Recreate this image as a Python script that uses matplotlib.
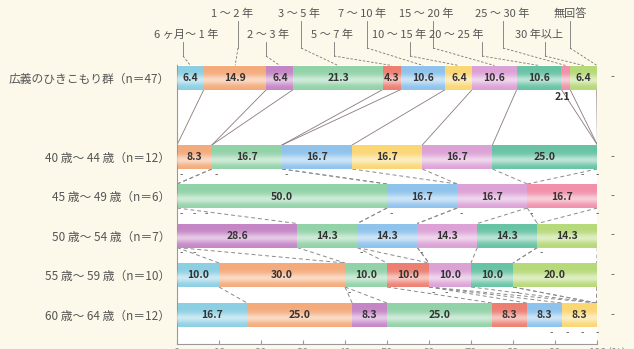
import numpy as np
import matplotlib.pyplot as plt

plt.rcParams['font.family'] = ['Noto Sans CJK JP', 'DejaVu Sans']

categories = ['6 ヶ月～ 1 年', '1 ～ 2 年', '2 ～ 3 年', '3 ～ 5 年', '5 ～ 7 年', '7 ～ 10 年',
              '10 ～ 15 年', '15 ～ 20 年', '20 ～ 25 年', '25 ～ 30 年', '30 年以上', '無回答']
groups = ['広義のひきこもり群（n＝47）', '40 歳～ 44 歳（n＝12）', '45 歳～ 49 歳（n＝6）',
          '50 歳～ 54 歳（n＝7）', '55 歳～ 59 歳（n＝10）', '60 歳～ 64 歳（n＝12）']

total = [6.4, 14.9, 6.4, 21.3, 4.3, 10.6, 6.4, 10.6, 10.6, 2.1, 6.4, 0]
age_40_44 = [0, 8.3, 0, 16.7, 0, 16.7, 16.7, 16.7, 25.0, 0, 0, 0]
age_45_49 = [0, 0, 0, 50.0, 0, 16.7, 0, 16.7, 0, 16.7, 0, 0]
age_50_54 = [0, 0, 28.6, 14.3, 0, 14.3, 0, 14.3, 14.3, 0, 14.3, 0]
age_55_59 = [10.0, 30.0, 0, 10.0, 10.0, 0, 0, 10.0, 10.0, 0, 20.0, 0]
age_60_64 = [16.7, 25.0, 8.3, 25.0, 8.3, 8.3, 8.3, 0, 0, 0, 0, 0]

colors = ['#8ccfe3', '#f4ab7c', '#c586c6', '#92d2a8', '#ec7f72', '#8fc3ec',
          '#fad674', '#dca2d6', '#68c3a5', '#f190aa', '#b6d979', '#bbbbbb']

data = np.array([total, age_40_44, age_45_49, age_50_54, age_55_59, age_60_64])
cum = data.cumsum(axis=1)
left = cum - data

# layout is in pixel units so row and label placement is easy to tune
W, H = 634, 349
x0_px, x1_px = 177, 597
top_px, bottom_px = 65, 344
row_y = [77.5, 157, 196, 235.5, 275, 315]
bar_h = 24


def px(x):
    return (x - x0_px) / (x1_px - x0_px) * 100


fig = plt.figure(figsize=(W / 100, H / 100), dpi=100)
fig.patch.set_facecolor('#fdf9ea')
ax = fig.add_axes([x0_px / W, 1 - bottom_px / H, (x1_px - x0_px) / W, (bottom_px - top_px) / H])
ax.set_facecolor('white')

for k in range(len(categories)):
    ax.barh(row_y, data[:, k], left=left[:, k], height=bar_h,
            color=colors[k], edgecolor='none', zorder=2)

# soft highlight across each bar
t = np.linspace(0, 1, 60)
alpha = 0.55 * np.exp(-((t - 0.62) / 0.2) ** 2)
shine = np.ones((60, 1, 4))
shine[:, 0, 3] = alpha
for i, y in enumerate(row_y):
    ax.imshow(shine, extent=(0, min(cum[i, -1], 100), y + bar_h / 2, y - bar_h / 2),
              origin='upper', aspect='auto', interpolation='bilinear', zorder=3)

# value labels
for i, y in enumerate(row_y):
    for k, v in enumerate(data[i]):
        mid = left[i, k] + v / 2
        if v >= 3:
            ax.text(mid, y + 0.5, f'{v:.1f}', ha='center', va='center', fontsize=7.5,
                    fontweight='bold', color='#333333', zorder=4)
        elif v > 0:
            ax.text(mid - 0.8, y + bar_h / 2 + 7, f'{v:.1f}', ha='center', va='center',
                    fontsize=7.5, fontweight='bold', color='#333333', zorder=4)

# dashes for empty segments
for i, y in enumerate(row_y):
    zero_pos = {}
    for k, v in enumerate(data[i][:-1]):
        if v == 0:
            zero_pos.setdefault(round(cum[i, k], 1), []).append(k)
    for pos, ks in zero_pos.items():
        n = len(ks)
        for j in range(n):
            if pos >= 90:
                xd = 100 - 3.6 * (n - 1 - j)
            else:
                xd = pos + 1 + 3 * j
            ax.text(xd, y + bar_h / 2 + 6, '-', ha='center', va='center', fontsize=7,
                    color='#555555', clip_on=False)
    ax.text(px(612), y, '-', ha='center', va='center', fontsize=8, color='#555555', clip_on=False)

# series lines between neighbouring bars
for i in range(len(row_y) - 1):
    ya = row_y[i] + bar_h / 2
    yb = row_y[i + 1] - bar_h / 2
    for k in range(len(categories)):
        if i == 0:
            ax.plot([cum[i, k], cum[i + 1, k]], [ya, yb], color='#8a7a7a', lw=0.6, zorder=1)
        else:
            ax.plot([cum[i, k], cum[i + 1, k]], [ya, yb], color='#8a8a8a', lw=0.7,
                    ls=(0, (4, 3)), zorder=1)

# category labels with leader lines to the first bar
label_x = [186, 232, 268, 299, 332, 362, 399, 426, 456, 502, 539, 570]
leader_x = [183, 238, 266, 301, 334, 367, 410, 433, 482, 503, 545, 570]
first_mid = left[0] + data[0] / 2
first_mid[-1] = 100
for k, cat in enumerate(categories):
    upper = k % 2 == 1
    ly = 14 if upper else 35
    ax.text(px(label_x[k]), ly, cat, ha='center', va='center', fontsize=8,
            color='#555555', clip_on=False)
    y_start = ly + 7
    y_elbow = 48 if upper else 56
    lx = px(leader_x[k])
    ax.plot([lx, lx], [y_start, y_elbow], color='#777777', lw=0.6, clip_on=False)
    ax.plot([lx, first_mid[k]], [y_elbow, top_px + 0.5], color='#777777', lw=0.6,
            ls=(0, (3, 2)), clip_on=False)

ax.set_xlim(0, 100)
ax.set_ylim(bottom_px, top_px)
ax.set_xticks(range(0, 101, 10))
ax.set_yticks(row_y)
ax.set_yticklabels(groups)
ax.tick_params(axis='y', length=0, pad=5, labelsize=8.5, labelcolor='#555555')
ax.tick_params(axis='x', direction='in', length=3, color='#999999', pad=3,
               labelsize=8, labelcolor='#888888')
for side in ['top', 'right']:
    ax.spines[side].set_visible(False)
ax.spines['left'].set_color('#999999')
ax.spines['bottom'].set_color('#999999')
ax.spines['left'].set_linewidth(0.8)
ax.spines['bottom'].set_linewidth(0.8)
ax.text(px(617), bottom_px + 3, '(%)', ha='center', va='top', fontsize=8,
        color='#888888', clip_on=False)

fig.savefig('out.png', dpi=100)
